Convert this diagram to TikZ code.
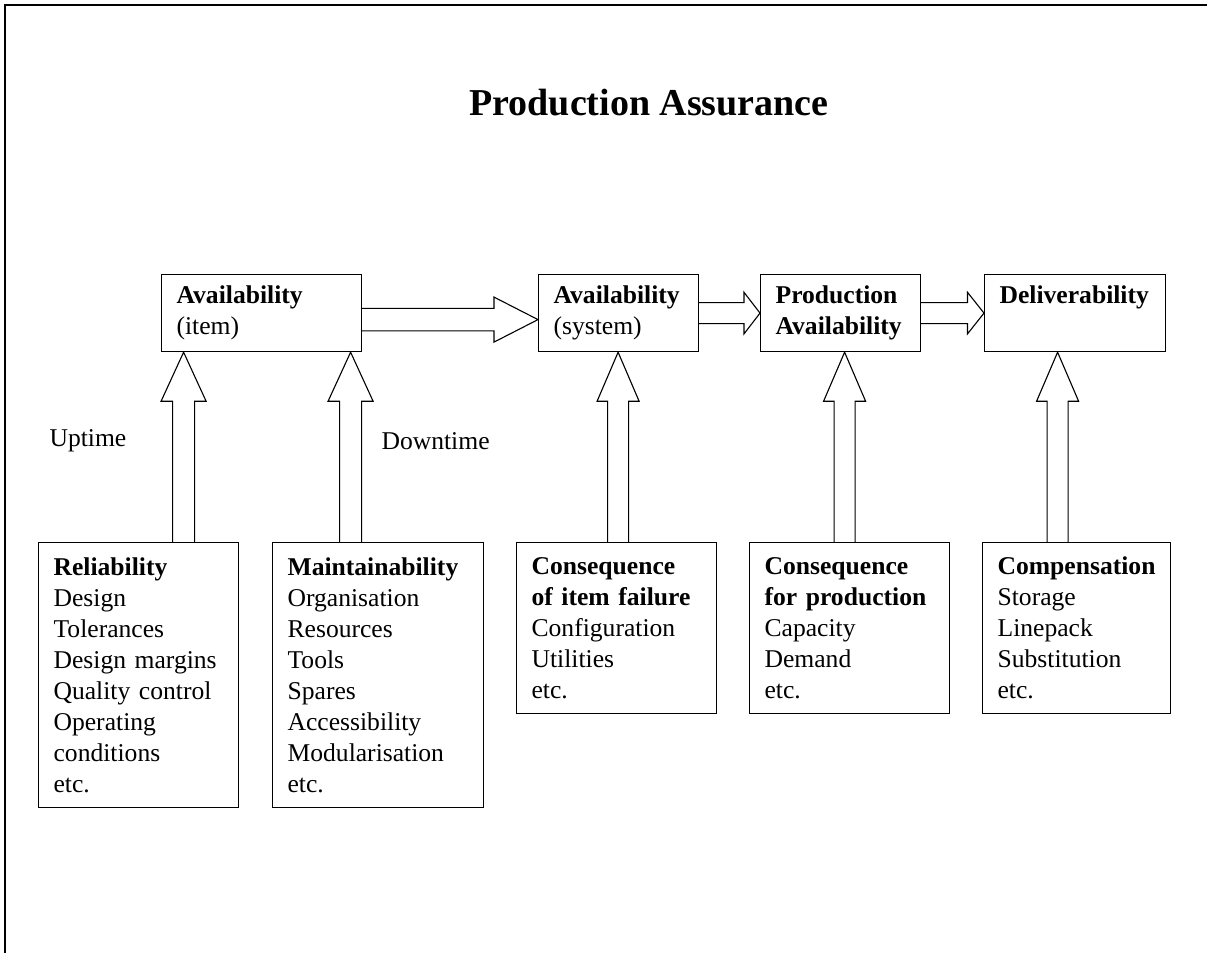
\documentclass[tikz,border=0pt]{standalone}
\usepackage{fontspec}
\setmainfont{Liberation Serif}
\usetikzlibrary{calc}
\tikzset{
  factor/.style={
    draw=black,
    line width=1.2pt,
    anchor=north west,
    align=left,
    inner xsep=15pt,
    inner ysep=0pt,
    text=black,
    font=\fontsize{25.6}{31}\selectfont
  },
  measure/.style={
    factor,
    minimum height=77pt
  },
  flow/.style={
    draw=black,
    line width=1.1pt,
    line join=miter
  },
  heading/.style={
    font=\bfseries\fontsize{38}{46}\selectfont
  },
  remark/.style={
    anchor=west,
    font=\fontsize{25.6}{31}\selectfont
  }
}
% hollow block arrows: from, to, offset, shaft half, head half, head length
\newcommand\sideflow[6]{%
  \draw[flow] let \p1=(#1.east), \p2=(#2.west) in
    (\x1,{\y2-#3pt+#4pt}) -- ({\x2-#6pt},{\y2-#3pt+#4pt}) -- ({\x2-#6pt},{\y2-#3pt+#5pt})
    -- (\x2,{\y2-#3pt}) -- ({\x2-#6pt},{\y2-#3pt-#5pt}) -- ({\x2-#6pt},{\y2-#3pt-#4pt})
    -- (\x1,{\y2-#3pt-#4pt});}
\newcommand\upflow[6]{%
  \draw[flow] let \p1=(#1.north), \p2=(#2.south) in
    ({\x1+#3pt-#4pt},\y1) -- ({\x1+#3pt-#4pt},{\y2-#6pt}) -- ({\x1+#3pt-#5pt},{\y2-#6pt})
    -- ({\x1+#3pt},\y2) -- ({\x1+#3pt+#5pt},{\y2-#6pt}) -- ({\x1+#3pt+#4pt},{\y2-#6pt})
    -- ({\x1+#3pt+#4pt},\y1);}
\begin{document}
\begin{tikzpicture}[x=1pt,y=-1pt]
  \useasboundingbox (0,0) rectangle (1207,953);
  \draw[line width=2pt] (5,953) -- (5,5) -- (1207,5);

  \node[heading] (title) at (649,103) {Production Assurance};

  % top row
  \node[measure, text width=170pt] (avitem) at (161,274)
    {\textbf{Availability}\\(item)};
  \node[measure, text width=130pt] (avsys) at (538,274)
    {\textbf{Availability}\\(system)};
  \node[measure, text width=130pt] (prodav) at (760,274)
    {\textbf{Production}\\\textbf{Availability}};
  \node[measure, text width=151pt] (deliv) at (984,274)
    {\textbf{Deliverability}\\\vphantom{(}};

  % bottom row
  \node[factor, text width=170pt, minimum height=265pt] (reliab) at (38,542)
    {\textbf{Reliability}\\Design\\Tolerances\\Design margins\\Quality control\\Operating\\conditions\\etc.};
  \node[factor, text width=181pt, minimum height=265pt] (maint) at (272,542)
    {\textbf{Maintainability}\\Organisation\\Resources\\Tools\\Spares\\Accessibility\\Modularisation\\etc.};
  \node[factor, text width=170pt, minimum height=171pt] (conitem) at (516,542)
    {\textbf{Consequence}\\\textbf{of item failure}\\Configuration\\Utilities\\etc.};
  \node[factor, text width=170pt, minimum height=171pt] (conprod) at (749,542)
    {\textbf{Consequence}\\\textbf{for production}\\Capacity\\Demand\\etc.};
  \node[factor, text width=158pt, minimum height=171pt] (compens) at (982,542)
    {\textbf{Compensation}\\Storage\\Linepack\\Substitution\\etc.};

  \node[remark] (uptime) at (46,441) {Uptime};
  \node[remark] (downtime) at (378,441) {Downtime};

  \sideflow{avitem}{avsys}{6.5}{11.2}{22.5}{44}
  \sideflow{avsys}{prodav}{0}{10.5}{20.8}{16}
  \sideflow{prodav}{deliv}{0}{10.5}{20.8}{16.5}

  \upflow{reliab}{avitem}{45}{11}{22.5}{49}
  \upflow{maint}{avitem}{-27.5}{11}{22.5}{49}
  \upflow{conitem}{avsys}{1.5}{10.5}{21}{49}
  \upflow{conprod}{prodav}{-5}{10.5}{21}{49}
  \upflow{compens}{deliv}{-19}{10.5}{21}{49}
\end{tikzpicture}
\end{document}
